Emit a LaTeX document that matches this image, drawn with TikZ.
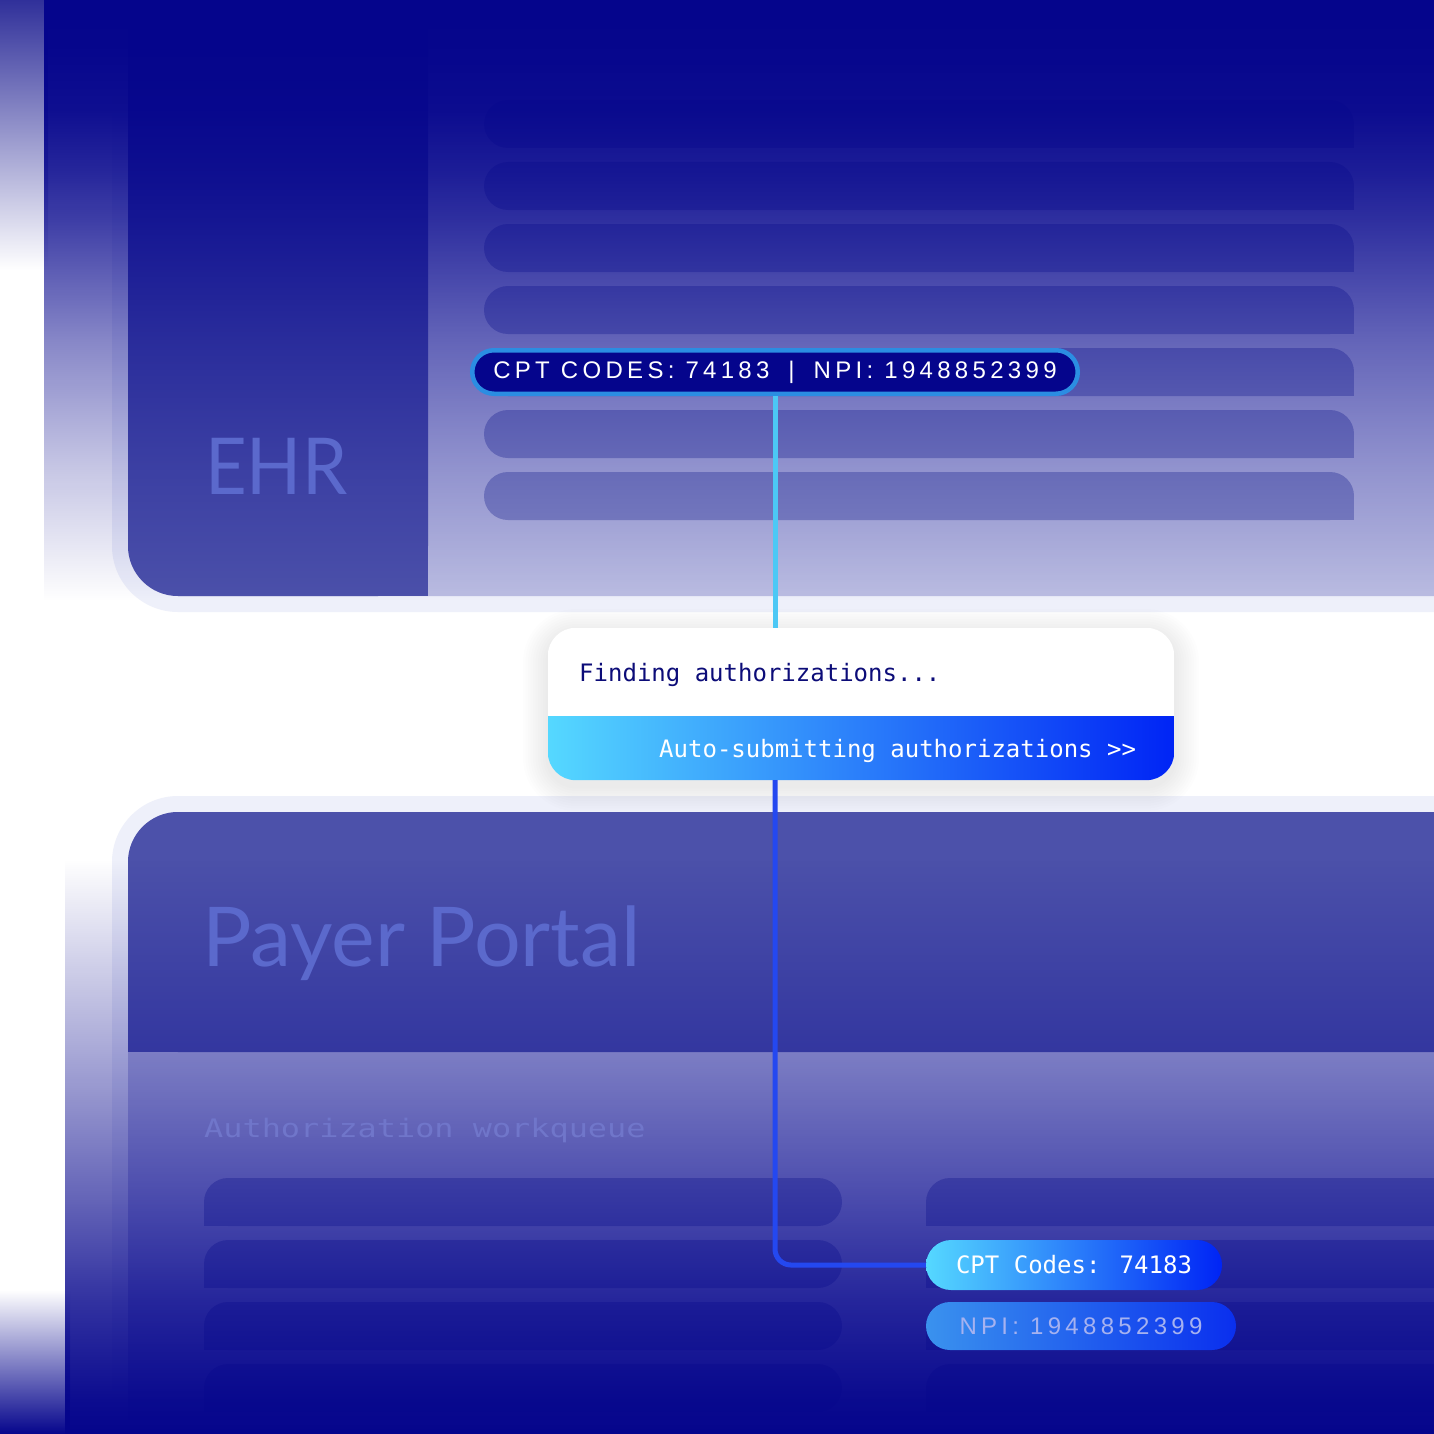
\documentclass[tikz,border=0pt]{standalone}
\usepackage{fontspec}
\usetikzlibrary{fadings}
\newfontfamily\monof{DejaVu Sans Mono}
\newfontfamily\monowide[FakeStretch=1.25]{DejaVu Sans Mono}
\newfontfamily\trackf[LetterSpace=18]{Liberation Sans}
\newfontfamily\titlef{Lato}
\newfontfamily\titlefn[FakeStretch=0.92]{Lato}
\definecolor{navy}{HTML}{05058C}
\definecolor{panel}{HTML}{4C51AA}
\definecolor{contentbg}{HTML}{BBBDE2}
\definecolor{barc}{HTML}{8489C5}
\definecolor{frameband}{HTML}{EEF0FA}
\definecolor{titletxt}{HTML}{5B69CC}
\definecolor{wqtxt}{HTML}{7076CA}
\definecolor{pillborder}{HTML}{2B8DE2}
\definecolor{cyanline}{HTML}{4CC8F5}
\definecolor{blueline}{HTML}{2448F0}
\definecolor{gradL}{HTML}{55D8FF}
\definecolor{gradR}{HTML}{0024F5}
\definecolor{npiL}{HTML}{3A92EE}
\definecolor{npiR}{HTML}{0A2FEE}
\definecolor{npitxt}{HTML}{A6B2F0}
\definecolor{cardtxt}{HTML}{0C0C78}
\definecolor{stripc}{HTML}{30309A}
\pgfdeclareverticalshading{topfadeS}{100bp}{color(0bp)=(black); color(25bp)=(black); color(36.67bp)=(white!24!black); color(46.67bp)=(white!48!black); color(56.67bp)=(white!77!black); color(60.83bp)=(white!87!black); color(65.83bp)=(white!96!black); color(70.83bp)=(white!99!black); color(75bp)=(white); color(100bp)=(white)}
\pgfdeclarefading{topfade}{\pgfuseshading{topfadeS}}
\pgfdeclareverticalshading{botfadeS}{100bp}{color(0bp)=(white); color(25bp)=(white); color(27.96bp)=(white!97!black); color(36.67bp)=(white!82!black); color(45.38bp)=(white!62!black); color(58.45bp)=(white!34!black); color(75bp)=(black); color(100bp)=(black)}
\pgfdeclarefading{botfade}{\pgfuseshading{botfadeS}}
\tikzset{
  titletext/.style={anchor=base west, inner sep=0, text=titletxt},
  monotext/.style={anchor=base west, inner sep=0, font=\monof\fontsize{24}{24}\selectfont},
  barshape/.style={fill=barc, rounded corners=24},
  connector/.style={line width=5},
}
\begin{document}
\begin{tikzpicture}[x=1pt,y=-1pt]
\useasboundingbox (0,0) rectangle (1434,1434);
\begin{scope}
\clip (0,0) rectangle (1434,1434);
\fill[white] (0,0) rectangle (1434,1434);
\shade[top color=stripc, bottom color=white] (0,0) rectangle (48,270);
% EHR window
\fill[frameband, rounded corners=66] (112,-300) rectangle (1700,612);
\fill[contentbg, rounded corners=50] (128,-300) rectangle (1700,596);
\fill[panel, rounded corners=50] (128,-300) rectangle (428,596);
\fill[panel] (300,-300) rectangle (428,596);
\foreach \k in {0,...,6}{
  \pgfmathsetmacro\yt{100+62*\k}
  \path[barshape] (484,\yt) rectangle (1354,\yt+48);
  \fill[barc] (1320,\yt+24) rectangle (1354,\yt+48);
}
\fill[navy, path fading=topfade] (44,0) rectangle (1460,600);
% Payer portal window
\fill[frameband, rounded corners=66] (112,796) rectangle (1700,1700);
\fill[contentbg, rounded corners=50] (128,812) rectangle (1700,1700);
\fill[panel, rounded corners=50] (128,812) rectangle (1700,1052);
\fill[panel] (128,900) rectangle (1700,1052);
\foreach \k in {0,...,3}{
  \pgfmathsetmacro\yt{1178+62*\k}
  \path[barshape] (204,\yt) rectangle (842,\yt+48);
  \fill[barc] (204,\yt+24) rectangle (240,\yt+48);
  \path[barshape] (926,\yt) rectangle (1700,\yt+48);
  \fill[barc] (926,\yt+24) rectangle (960,\yt+48);
}
\shade[top color=white, bottom color=navy] (0,1290) rectangle (70,1434);
\fill[navy, path fading=botfade] (66,860) rectangle (1460,1434);
\end{scope}
% labels
\node[titletext, font=\titlefn\fontsize{78.5}{78}\selectfont] (ehrlabel) at (205,494) {EHR};
\node[titletext, font=\titlef\fontsize{82.5}{82}\selectfont] (payerlabel) at (202,966) {Payer Portal};
\node[anchor=base west, inner sep=0, text=wqtxt, font=\monowide\fontsize{25.5}{26}\selectfont] (wqlabel) at (204,1137) {Authorization workqueue};
% card
\node[minimum width=626, minimum height=152, inner sep=0] (card) at (861,704) {};
\foreach \i in {1,...,10}{
  \fill[black, fill opacity=0.009, rounded corners=28+2.5*\i] (548-2.5*\i,634-2.5*\i) rectangle (1174+2.5*\i,786+2.5*\i);
}
\begin{scope}
\clip[rounded corners=28] (card.north west) rectangle (card.south east);
\fill[white] (card.north west) rectangle (1174,716);
\shade[left color=gradL, right color=gradR] (548,716) rectangle (card.south east);
\end{scope}
\node[monotext, text=cardtxt] (findtxt) at (579,681) {Finding authorizations...};
\node[monotext, text=white] (autotxt) at (659,757) {Auto-submitting authorizations >{}>};
% pills
\node[draw=pillborder, line width=4.5, fill=navy, rounded corners=21.75, minimum width=605.5, minimum height=43.5, inner sep=0, text=white, font=\trackf\fontsize{24}{24}\selectfont] (ehrpill) at (775,372) {CPT CODES: 74183\hspace{8pt} | \hspace{8pt}NPI: 1948852399};
\node[rounded corners=25, left color=gradL, right color=gradR, minimum width=296, minimum height=50, inner sep=0, text=white, font=\monof\fontsize{24}{24}\selectfont] (cptpill) at (1074,1265) {CPT Codes: 74183};
\node[rounded corners=24, left color=npiL, right color=npiR, minimum width=310, minimum height=48, inner sep=0, text=npitxt, font=\trackf\fontsize{24}{24}\selectfont] (npipill) at (1081,1326) {NPI: 1948852399};
% connectors
\draw[connector, cyanline] (ehrpill.south) -- (ehrpill.south |- card.north);
\draw[connector, blueline, rounded corners=16] (ehrpill.south |- card.south) |- (cptpill.west);
\end{tikzpicture}
\end{document}
